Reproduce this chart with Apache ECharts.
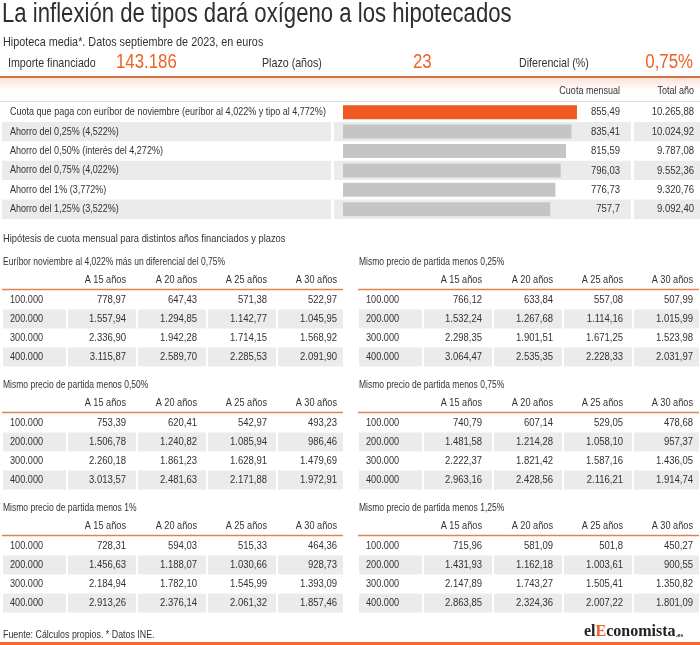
<!DOCTYPE html>
<html>
<head>
<meta charset="utf-8">
<script src="https://cdn.jsdelivr.net/npm/echarts@6/dist/echarts.min.js"></script>
<style>
html,body{margin:0;padding:0;background:#fff;}
#c{width:700px;height:645px;}
</style>
</head>
<body>
<div id="c"></div>
<script>
// ---------- DATA ----------
var titleText = 'La inflexión de tipos dará oxígeno a los hipotecados';
var subtitleText = 'Hipoteca media*. Datos septiembre de 2023, en euros';
var keyLabels = ['Importe financiado', 'Plazo (años)', 'Diferencial (%)'];
var keyValues = ['143.186', '23', '0,75%'];

var barHeaders = ['Cuota mensual', 'Total año'];
var barLabels = [
  'Cuota que paga con euríbor de noviembre (euríbor al 4,022% y tipo al 4,772%)',
  'Ahorro del 0,25% (4,522%)',
  'Ahorro del 0,50% (interés del 4,272%)',
  'Ahorro del 0,75% (4,022%)',
  'Ahorro del 1% (3,772%)',
  'Ahorro del 1,25% (3,522%)'
];
var cuotaMensual = [855.49, 835.41, 815.59, 796.03, 776.73, 757.7];
var totalAnio = [10265.88, 10024.92, 9787.08, 9552.36, 9320.76, 9092.40];

var sectionTitle = 'Hipótesis de cuota mensual para distintos años financiados y plazos';
var importes = [100000, 200000, 300000, 400000];
var plazos = ['A 15 años', 'A 20 años', 'A 25 años', 'A 30 años'];
var tableTitles = [
  'Euríbor noviembre al 4,022% más un diferencial del 0,75%',
  'Mismo precio de partida menos 0,25%',
  'Mismo precio de partida menos 0,50%',
  'Mismo precio de partida menos 0,75%',
  'Mismo precio de partida menos 1%',
  'Mismo precio de partida menos 1,25%'
];
var tablaEuribor = [[778.97, 647.43, 571.38, 522.97], [1557.94, 1294.85, 1142.77, 1045.95], [2336.90, 1942.28, 1714.15, 1568.92], [3115.87, 2589.70, 2285.53, 2091.90]];
var tablaMenos025 = [[766.12, 633.84, 557.08, 507.99], [1532.24, 1267.68, 1114.16, 1015.99], [2298.35, 1901.51, 1671.25, 1523.98], [3064.47, 2535.35, 2228.33, 2031.97]];
var tablaMenos050 = [[753.39, 620.41, 542.97, 493.23], [1506.78, 1240.82, 1085.94, 986.46], [2260.18, 1861.23, 1628.91, 1479.69], [3013.57, 2481.63, 2171.88, 1972.91]];
var tablaMenos075 = [[740.79, 607.14, 529.05, 478.68], [1481.58, 1214.28, 1058.10, 957.37], [2222.37, 1821.42, 1587.16, 1436.05], [2963.16, 2428.56, 2116.21, 1914.74]];
var tablaMenos100 = [[728.31, 594.03, 515.33, 464.36], [1456.63, 1188.07, 1030.66, 928.73], [2184.94, 1782.10, 1545.99, 1393.09], [2913.26, 2376.14, 2061.32, 1857.46]];
var tablaMenos125 = [[715.96, 581.09, 501.8, 450.27], [1431.93, 1162.18, 1003.61, 900.55], [2147.89, 1743.27, 1505.41, 1350.82], [2863.85, 2324.36, 2007.22, 1801.09]];
var footerText = 'Fuente: Cálculos propios. * Datos INE.';

// ---------- HELPERS ----------
function thousands(s) { return s.replace(/\B(?=(\d{3})+(?!\d))/g, '.'); }
function fmtNum(v) {
  if (v >= 1000) { var p = v.toFixed(2).split('.'); return thousands(p[0]) + ',' + p[1]; }
  return String(v).replace('.', ',');
}
function fmtInt(v) { return thousands(String(v)); }

var FONT = '"Liberation Sans", Arial, sans-serif';
var NARROW = 0.82;
var TXT = '#333333';
var ORANGE = '#ec6128';
var ROWBG = '#ebebeb';
var G = [];
function text(t, x, y, size, opts) {
  opts = opts || {};
  G.push({
    type: 'text', z: 10, x: x, y: y, scaleX: NARROW,
    style: {
      text: t, x: 0, y: 0,
      font: (opts.weight || 'normal') + ' ' + size + 'px ' + FONT,
      fill: opts.fill || TXT,
      textAlign: opts.align || 'left',
      textVerticalAlign: 'middle'
    }
  });
}
function rect(x, y, w, h, fill, z) {
  G.push({ type: 'rect', z: z == null ? 0 : z, shape: { x: x, y: y, width: w, height: h }, style: { fill: fill } });
}
function line(x1, y1, x2, y2, stroke, w) {
  G.push({ type: 'line', z: 5, shape: { x1: x1, y1: y1, x2: x2, y2: y2 }, style: { stroke: stroke, lineWidth: w } });
}

// ---------- HEADER ----------
text(titleText, 2, 15, 27, { fill: '#2e2e2e' });
text(subtitleText, 3, 42, 13.2);
text(keyLabels[0], 8, 63, 13);
text(keyValues[0], 116, 62, 20.5, { fill: ORANGE });
text(keyLabels[1], 262, 63, 13);
text(keyValues[1], 413, 62, 20.5, { fill: ORANGE });
text(keyLabels[2], 519, 63, 13);
text(keyValues[2], 693, 62, 20.5, { fill: ORANGE, align: 'right' });
G.push({
  type: 'rect', z: 0, shape: { x: 0, y: 78, width: 700, height: 12 },
  style: { fill: new echarts.graphic.LinearGradient(0, 0, 0, 1, [{ offset: 0, color: 'rgba(236,120,60,0.22)' }, { offset: 1, color: 'rgba(236,120,60,0)' }]) }
});
line(0, 77, 700, 77, '#cf7444', 2);

// ---------- BAR TABLE ----------
var ROW0 = 102.5, ROWH = 19.4;
text(barHeaders[0], 620, 91, 11, { align: 'right' });
text(barHeaders[1], 694, 91, 11, { align: 'right' });
line(0, 101.5, 700, 101.5, '#dedede', 1);
barLabels.forEach(function (lab, i) {
  var y0 = ROW0 + ROWH * i;
  if (i % 2 === 1) {
    rect(2, y0, 329, ROWH, ROWBG);
    rect(334, y0, 297, ROWH, ROWBG);
    rect(634, y0, 66, ROWH, ROWBG);
  }
  text(lab, 10, y0 + ROWH / 2, 11);
  text(fmtNum(cuotaMensual[i]), 620, y0 + ROWH / 2, 11.6, { align: 'right' });
  text(fmtNum(totalAnio[i]), 694, y0 + ROWH / 2, 11.6, { align: 'right' });
});

// ---------- HYPOTHESIS TABLES ----------
text(sectionTitle, 3, 239, 11.4);
var tables = [tablaEuribor, tablaMenos025, tablaMenos050, tablaMenos075, tablaMenos100, tablaMenos125];
var tLeft = [3, 359];
var tLine = [289.5, 412.5, 535.5];
var colEnds = [123, 194, 264, 334];
var segs = [[0, 63], [65, 133], [135, 203], [205, 273], [275, 340]];
tables.forEach(function (tab, k) {
  var L = tLeft[k % 2], ly = tLine[Math.floor(k / 2)];
  text(tableTitles[k], L, ly - 27, 10.4);
  plazos.forEach(function (p, j) { text(p, L + colEnds[j], ly - 9.5, 11.2, { align: 'right' }); });
  line(L - 1, ly, L + 340, ly, '#e0834f', 1.5);
  tab.forEach(function (row, r) {
    var y0 = ly + 1 + 19 * r;
    if (r % 2 === 1) {
      segs.forEach(function (s) { rect(L + s[0], y0, s[1] - s[0], 19, ROWBG); });
    }
    text(fmtInt(importes[r]), L + 7, y0 + 9.5, 11.2);
    row.forEach(function (v, j) { text(fmtNum(v), L + colEnds[j], y0 + 9.5, 11.6, { align: 'right' }); });
  });
});

// ---------- FOOTER ----------
text(footerText, 3, 635, 10.8);
G.push({
  type: 'text', z: 10,
  style: {
    text: '{a|el}{b|E}{a|conomista}{c|.es}', x: 584, y: 632, textVerticalAlign: 'middle',
    rich: {
      a: { font: 'bold 16px "Liberation Serif", "DejaVu Serif", serif', fill: '#222' },
      b: { font: 'bold 16px "Liberation Serif", "DejaVu Serif", serif', fill: ORANGE },
      c: { font: 'bold 7px "Liberation Serif", "DejaVu Serif", serif', fill: '#222', padding: [6, 0, 0, 0] }
    }
  }
});
rect(0, 642, 700, 3, '#ef6a2c', 5);

// ---------- CHART ----------
var chart = echarts.init(document.getElementById('c'), null, { renderer: 'canvas' });
chart.setOption({
  animation: false,
  backgroundColor: '#ffffff',
  grid: { left: 343, top: ROW0, width: 273.5, height: ROWH * barLabels.length },
  xAxis: { type: 'value', min: 0, max: 1000, show: false },
  yAxis: { type: 'category', data: barLabels, inverse: true, show: false },
  series: [{
    type: 'bar', z: 3, barWidth: 14,
    data: cuotaMensual.map(function (v, i) {
      return { value: v, itemStyle: { color: i === 0 ? '#f05a22' : '#c5c5c3' } };
    }),
    silent: true
  }],
  graphic: { elements: G }
});
</script>
</body>
</html>
